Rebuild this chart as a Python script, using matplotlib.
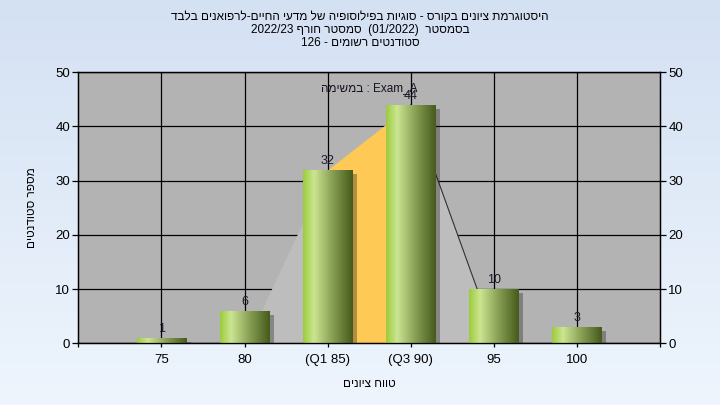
import re
import numpy as np
import matplotlib
matplotlib.use('Agg')
import matplotlib.pyplot as plt
import matplotlib.patheffects as pe
from matplotlib.colors import LinearSegmentedColormap

plt.rcParams['font.family'] = ['Liberation Sans', 'DejaVu Sans']

# data
labels = ['75', '80', '(Q1 85)', '(Q3 90)', '95', '100']
counts = [1, 6, 32, 44, 10, 3]
# background curve (behind the bars), positions in category units
curve_x = [1.2, 2, 3, 3.8]
curve_y = [6, 32, 44, 10]

title_lines = ['היסטוגרמת ציונים בקורס - סוגיות בפילוסופיה של מדעי החיים-לרפואנים בלבד',
               'בסמסטר  (01/2022)  סמסטר חורף 2022/23',
               'סטודנטים רשומים - 126']
task_label = 'Exam_A : במשימה'
xlabel = 'טווח ציונים'
ylabel = 'מספר סטודנטים'

MIRROR = str.maketrans('()', ')(')


def rtl(s):
    # crude bidi: reverse run order, flip hebrew runs, keep latin/digit runs
    parts = re.findall(r'[A-Za-z0-9_/.]+|[^A-Za-z0-9_/.]+', s)
    out = []
    for p in reversed(parts):
        if re.match(r'[A-Za-z0-9_/.]', p):
            out.append(p)
        else:
            out.append(p[::-1].translate(MIRROR))
    return ''.join(out)


fig = plt.figure(figsize=(7.2, 4.05), dpi=100)

# light blue gradient background
bg = fig.add_axes([0, 0, 1, 1], zorder=-10)
bg_cm = LinearSegmentedColormap.from_list('bg', ['#d4e1f3', '#eef5fd'])
bg.imshow(np.linspace(0, 1, 256).reshape(-1, 1), cmap=bg_cm, aspect='auto', extent=(0, 1, 0, 1))
bg.set_axis_off()

ax = fig.add_axes([0.1088, 0.1523, 0.8079, 0.6692])
ax.set_facecolor('#b3b3b3')
x = np.arange(len(counts))

# area behind the bars
ax.fill_between(curve_x[:2], curve_y[:2], color='#bdbdbd', lw=0, zorder=2)
ax.fill_between(curve_x[1:3], curve_y[1:3], color='#ffc955', lw=0, zorder=2)
ax.fill_between(curve_x[2:], curve_y[2:], color='#bdbdbd', lw=0, zorder=2)
ax.plot(curve_x[2:], curve_y[2:], color='#303030', lw=0.8, zorder=2.1)

bars = ax.bar(x, counts, width=0.6, color='#8aa850', zorder=3)
bar_cm = LinearSegmentedColormap.from_list(
    'bar', [(0, '#9ccc3c'), (0.22, '#cbe592'), (0.55, '#8ea75a'), (1, '#465a1b')])
grad = np.linspace(0, 1, 128).reshape(1, -1)
for rect in bars:
    rect.set_path_effects([pe.SimplePatchShadow(offset=(3, -3), shadow_rgbFace='#202020', alpha=0.35),
                           pe.Normal()])
    x0, w, h = rect.get_x(), rect.get_width(), rect.get_height()
    im = ax.imshow(grad, cmap=bar_cm, extent=(x0, x0 + w, 0, h), aspect='auto', zorder=3.5)
    im.set_clip_path(rect)

for xi, c in zip(x, counts):
    ax.annotate(str(c), (xi, c), xytext=(0, 2), textcoords='offset points',
                ha='center', va='bottom', fontsize=9, color='#1a1a2a', zorder=5)

ax.set_xlim(-1, 6)
ax.set_ylim(0, 50)
ax.set_yticks([0, 10, 20, 30, 40, 50])
ax.set_xticks(x)
ax.set_xticklabels(labels)
ax.set_xticks([-1, 6], minor=True)
ax.grid(True, color='black', lw=0.9, zorder=1)
ax.set_axisbelow(True)
ax.tick_params(axis='y', length=4, width=0.9, labelsize=9.5, colors='black', pad=2)
ax.tick_params(axis='x', which='both', length=3, width=0.9, labelsize=9.5, pad=5)
for s in ax.spines.values():
    s.set_color('black')
    s.set_linewidth(0.9)

ax2 = ax.twinx()
ax2.set_ylim(0, 50)
ax2.set_yticks([0, 10, 20, 30, 40, 50])
ax2.tick_params(axis='y', length=4, width=0.9, labelsize=9.5, pad=2)
for s in ax2.spines.values():
    s.set_color('black')
    s.set_linewidth(0.9)

ax.set_xlabel(rtl(xlabel), fontsize=8.5, labelpad=8)
ax.set_ylabel(rtl(ylabel), fontsize=8.5, labelpad=12)

ax.text(0.5, 0.94, rtl(task_label), transform=ax.transAxes, ha='center', va='center',
        fontsize=8.5, color='#1a1020', zorder=6)

for i, line in enumerate(title_lines):
    fig.text(0.5, 1 - (17 + 13 * i) / 405, rtl(line), ha='center', va='center', fontsize=8.5)

fig.savefig('out.png', dpi=100)
